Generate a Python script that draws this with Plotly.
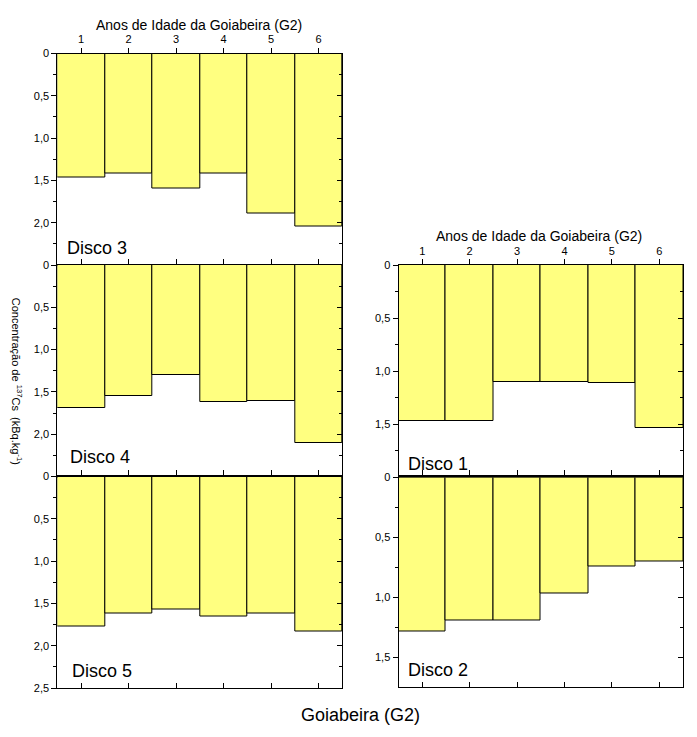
import numpy as np
import plotly.graph_objects as go

# ---------------- data ----------------
years = [1, 2, 3, 4, 5, 6]
disco1 = [1.47, 1.47, 1.10, 1.10, 1.11, 1.53]
disco2 = [1.28, 1.19, 1.19, 0.97, 0.74, 0.70]
disco3 = [1.46, 1.42, 1.59, 1.42, 1.89, 2.04]
disco4 = [1.69, 1.55, 1.30, 1.62, 1.61, 2.10]
disco5 = [1.77, 1.62, 1.57, 1.65, 1.62, 1.83]

ytick_vals_25 = [0, 0.5, 1.0, 1.5, 2.0, 2.5]
ytick_text_25 = ["0", "0,5", "1,0", "1,5", "2,0", "2,5"]
xtick_text = ["1", "2", "3", "4", "5", "6"]

x_title = "Anos de Idade da Goiabeira (G2)"
bottom_title = "Goiabeira (G2)"
y_title = "Concentração de <sup>137</sup>Cs  (kBq.kg<sup>-1</sup>)"

# ---------------- layout geometry ----------------
W, H = 697, 737
FONT = "Liberation Sans, Arial, sans-serif"
BAR_COLOR = "#FFFF80"

cols = {"L": (57.3, 342.3), "R": (398.5, 683.0)}

# name, values, column, top px, bottom px, max value, n labels, top labels, thick top, label pos (px)
panels = [
    ("Disco 3", disco3, "L", 48.3, 263.3, 2.5, 5, True, False, (65, 245.5)),
    ("Disco 4", disco4, "L", 263.3, 478.3, 2.5, 5, False, False, (68, 458)),
    ("Disco 5", disco5, "L", 478.3, 693.3, 2.5, 6, False, True, (70, 675.5)),
    ("Disco 1", disco1, "R", 263.3, 479.3, 2.0, 4, True, False, (405.7, 465.7)),
    ("Disco 2", disco2, "R", 479.3, 692.7, 1.75, 4, False, True, (405.7, 675)),
]

fig = go.Figure()
layout = dict(
    width=W, height=H,
    margin=dict(l=0, r=0, t=0, b=0),
    paper_bgcolor="white", plot_bgcolor="white",
    showlegend=False, bargap=0,
    font=dict(family=FONT, size=11, color="black"),
    annotations=[],
)

for k, (name, vals, col, ptop, pbot, vmax, nlab, toplab, thick, lpos) in enumerate(panels):
    a, b = 2 * k + 1, 2 * k + 2
    xa, xb = ("x" if a == 1 else f"x{a}"), f"x{b}"
    ya, yb = ("y" if a == 1 else f"y{a}"), f"y{b}"
    xdom = [cols[col][0] / W, cols[col][1] / W]
    ydom = [1 - pbot / H, 1 - ptop / H]

    fig.add_trace(go.Bar(
        x=years, y=vals, base=0, width=1,
        marker=dict(color=BAR_COLOR, line=dict(color="black", width=1)),
        xaxis=xa, yaxis=ya, hoverinfo="skip",
    ))
    # transparent copy so that the overlay (top / right) axes get drawn
    fig.add_trace(go.Bar(
        x=years, y=vals, base=0, width=1,
        marker=dict(color="rgba(0,0,0,0)", line=dict(color="rgba(0,0,0,0)", width=0)),
        xaxis=xb, yaxis=yb, hoverinfo="skip",
    ))

    minor_vals = list(np.arange(0.25, vmax, 0.5))

    # main bottom x axis (ticks inside)
    layout["xaxis" if a == 1 else f"xaxis{a}"] = dict(
        domain=xdom, anchor=ya, range=[0.5, 6.5],
        tickmode="array", tickvals=years, showticklabels=False,
        ticks="inside", ticklen=5, tickcolor="black",
        showline=True, linecolor="black", linewidth=1,
        showgrid=False, zeroline=False, fixedrange=True,
    )
    # top x axis (ticks outside)
    layout[f"xaxis{b}"] = dict(
        overlaying=xa, anchor=yb, side="top", range=[0.5, 6.5],
        tickmode="array", tickvals=years, ticktext=xtick_text,
        showticklabels=toplab, ticks="outside", ticklen=5, tickcolor="black",
        showline=True, linecolor="black", linewidth=2 if thick else 1,
        showgrid=False, zeroline=False, fixedrange=True,
        tickfont=dict(family=FONT, size=11, color="black"),
    )
    # left y axis (ticks outside)
    layout["yaxis" if a == 1 else f"yaxis{a}"] = dict(
        domain=ydom, anchor=xa, range=[vmax, 0],
        tickmode="array", tickvals=ytick_vals_25[:nlab], ticktext=ytick_text_25[:nlab],
        ticks="outside", ticklen=5, tickcolor="black",
        minor=dict(tickmode="array", tickvals=minor_vals, ticks="outside", ticklen=3,
                   tickcolor="black", showgrid=False),
        showline=True, linecolor="black", linewidth=1,
        showgrid=False, zeroline=False, fixedrange=True,
        tickfont=dict(family=FONT, size=11, color="black"),
    )
    # right y axis (ticks inside)
    layout[f"yaxis{b}"] = dict(
        overlaying=ya, anchor=xb, side="right", range=[vmax, 0],
        tickmode="array", tickvals=list(np.arange(0.5, vmax, 0.5)), showticklabels=False,
        ticks="inside", ticklen=5, tickcolor="black",
        minor=dict(tickmode="array", tickvals=minor_vals, ticks="inside", ticklen=3,
                   tickcolor="black", showgrid=False),
        showline=True, linecolor="black", linewidth=1,
        showgrid=False, zeroline=False, fixedrange=True,
    )

    layout["annotations"].append(dict(
        text=name, x=lpos[0] / W, y=1 - lpos[1] / H, xref="paper", yref="paper",
        xanchor="left", yanchor="middle", showarrow=False,
        font=dict(family=FONT, size=18, color="black"),
    ))

layout["annotations"] += [
    dict(text=x_title, x=198.5 / W, y=1 - 19 / H, xref="paper", yref="paper",
         xanchor="center", yanchor="middle", showarrow=False,
         font=dict(family=FONT, size=14, color="black")),
    dict(text=x_title, x=539 / W, y=1 - 234 / H, xref="paper", yref="paper",
         xanchor="center", yanchor="middle", showarrow=False,
         font=dict(family=FONT, size=14, color="black")),
    dict(text=bottom_title, x=360.5 / W, y=1 - 721 / H, xref="paper", yref="paper",
         xanchor="center", yanchor="middle", showarrow=False,
         font=dict(family=FONT, size=18, color="black")),
    dict(text=y_title, x=17 / W, y=1 - 381 / H, xref="paper", yref="paper",
         xanchor="center", yanchor="middle", showarrow=False, textangle=90,
         font=dict(family=FONT, size=11, color="black")),
]

fig.update_layout(**layout)
fig.write_html("out.html", config={"displayModeBar": False},
               post_script="document.body.style.margin='0';")
